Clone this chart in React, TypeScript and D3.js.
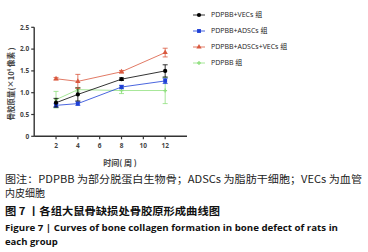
import React from "react";
import * as d3 from "d3";

const weeks = [2, 4, 8, 12];
const xTicks = [2, 4, 6, 8, 10, 12];
const yTicks = [0, 0.5, 1.0, 1.5, 2.0, 2.5];
const seriesNames = ["PDPBB+VECs 组", "PDPBB+ADSCs 组", "PDPBB+ADSCs+VECs 组", "PDPBB 组"];
const vecsMean = [0.77, 0.96, 1.31, 1.5];
const vecsErr = [0.1, 0.15, 0.03, 0.14];
const adscsMean = [0.71, 0.75, 1.13, 1.27];
const adscsErr = [0.04, 0.04, 0.04, 0.06];
const bothMean = [1.32, 1.26, 1.48, 1.92];
const bothErr = [0.03, 0.16, 0.03, 0.1];
const pdpbbMean = [0.84, 1.07, 1.05, 1.05];
const pdpbbErr = [0.19, 0.05, 0.07, 0.3];
const colors = ["#000000", "#1d3fd6", "#d9583e", "#8fe07e"];
const symbols = [d3.symbolCircle, d3.symbolSquare, d3.symbolTriangle, d3.symbolCross];
const symSizes = [14, 15, 12, 8];

export default function App() {
  const x = d3.scaleLinear().domain([0, 14]).range([34.2, 187]);
  const y = d3.scaleLinear().domain([0, 2.5]).range([136.3, 27.3]);
  const means = [vecsMean, adscsMean, bothMean, pdpbbMean];
  const errs = [vecsErr, adscsErr, bothErr, pdpbbErr];
  const line = d3.line<number>().x((_, i) => x(weeks[i])).y((d) => y(d));
  const order = [3, 1, 0, 2];
  const font = "'Open Sans', 'Noto Sans CJK SC', sans-serif";
  const cjk = "'Noto Sans CJK SC', sans-serif";
  return (
    <svg width={368} height={252} style={{ position: "absolute", left: 0, top: 0, background: "#fff" }}>
      {/* axes */}
      <line x1={x(0)} x2={x(14)} y1={y(0)} y2={y(0)} stroke="#333" strokeWidth={1.4} />
      <line x1={x(0)} x2={x(0)} y1={y(0)} y2={y(2.5)} stroke="#333" strokeWidth={1.4} />
      {yTicks.map((t) => (
        <g key={"y" + t}>
          <line x1={x(0) - 3} x2={x(0)} y1={y(t)} y2={y(t)} stroke="#333" strokeWidth={1.2} />
          <text x={x(0) - 5} y={y(t)} dy="0.35em" textAnchor="end" fontSize={6.5} fontWeight="bold" fill="#444" fontFamily={font}>
            {t === 0 ? "0" : t.toFixed(1)}
          </text>
        </g>
      ))}
      {xTicks.map((t) => (
        <g key={"x" + t}>
          <line x1={x(t)} x2={x(t)} y1={y(0)} y2={y(0) + 3} stroke="#333" strokeWidth={1.2} />
          <text x={x(t)} y={y(0) + 12} textAnchor="middle" fontSize={6.5} fontWeight="bold" fill="#444" fontFamily={font}>
            {t}
          </text>
        </g>
      ))}
      <text x={120} y={166} textAnchor="middle" fontSize={8} fontWeight="bold" fill="#444" fontFamily={cjk}>
        时间( 周 )
      </text>
      <text transform={`translate(14,84) rotate(-90)`} textAnchor="middle" fontSize={7.5} fontWeight="bold" fill="#444" fontFamily={cjk} textLength={73} lengthAdjust="spacingAndGlyphs">
        骨胶原量(×10<tspan dy={-3} fontSize={4.5}>4</tspan><tspan dy={3}> 像素 )</tspan>
      </text>
      {/* series */}
      {order.map((s) => (
        <g key={"s" + s}>
          <path d={line(means[s]) || ""} fill="none" stroke={colors[s]} strokeWidth={0.8} />
          {means[s].map((m, i) => (
            <g key={i}>
              <line x1={x(weeks[i])} x2={x(weeks[i])} y1={y(m - errs[s][i])} y2={y(m + errs[s][i])} stroke={colors[s]} strokeWidth={0.8} />
              <line x1={x(weeks[i]) - 2.5} x2={x(weeks[i]) + 2.5} y1={y(m + errs[s][i])} y2={y(m + errs[s][i])} stroke={colors[s]} strokeWidth={0.8} />
              <line x1={x(weeks[i]) - 2.5} x2={x(weeks[i]) + 2.5} y1={y(m - errs[s][i])} y2={y(m - errs[s][i])} stroke={colors[s]} strokeWidth={0.8} />
              <path transform={`translate(${x(weeks[i])},${y(m)})`} d={d3.symbol(symbols[s], symSizes[s])() || ""} fill={colors[s]} />
            </g>
          ))}
        </g>
      ))}
      {/* legend */}
      {seriesNames.map((n, i) => {
        const ly = 15 + i * 16;
        return (
          <g key={"l" + i}>
            <line x1={193} x2={205} y1={ly} y2={ly} stroke={colors[i]} strokeWidth={0.8} />
            <path transform={`translate(199,${ly})`} d={d3.symbol(symbols[i], symSizes[i])() || ""} fill={colors[i]} />
            <text x={211} y={ly} dy="0.35em" fontSize={7} fill="#222" fontFamily={font}>
              {n}
            </text>
          </g>
        );
      })}
      {/* caption */}
      <text x={5} y={183} fontSize={10} fill="#222" fontFamily={cjk} textLength={357} lengthAdjust="spacingAndGlyphs">
        图注：PDPBB 为部分脱蛋白生物骨；ADSCs 为脂肪干细胞；VECs 为血管
      </text>
      <text x={5} y={197} fontSize={10} fill="#222" fontFamily={cjk}>
        内皮细胞
      </text>
      <text x={5} y={214.5} fontSize={10.5} fill="#111" fontFamily={cjk} fontWeight="bold" textLength={215} lengthAdjust="spacingAndGlyphs">
        图 7 丨各组大鼠骨缺损处骨胶原形成曲线图
      </text>
      <text x={5} y={230.5} fontSize={9.5} fill="#111" fontFamily="'Open Sans', sans-serif" fontWeight="bold" textLength={333} lengthAdjust="spacingAndGlyphs">
        Figure 7 | Curves of bone collagen formation in bone defect of rats in
      </text>
      <text x={5} y={245} fontSize={9.5} fill="#111" fontFamily="'Open Sans', sans-serif" fontWeight="bold">
        each group
      </text>
    </svg>
  );
}
